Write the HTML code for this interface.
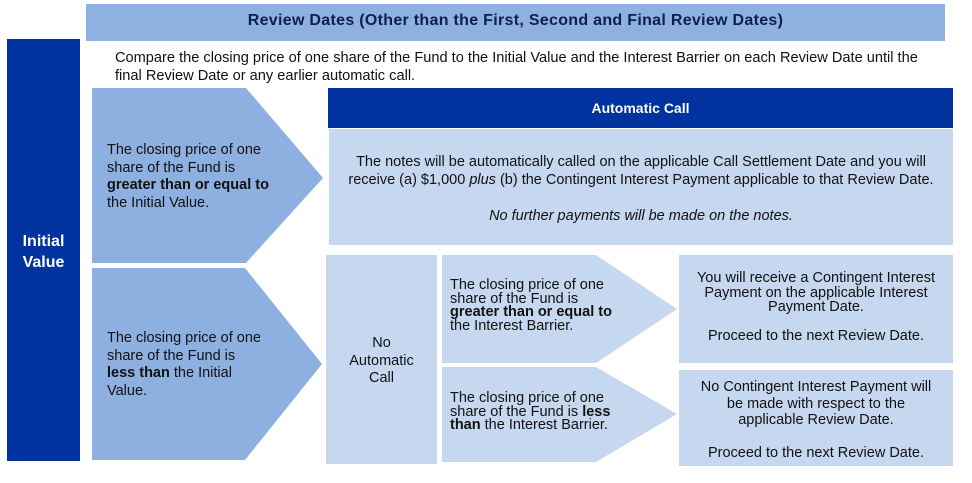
<!DOCTYPE html>
<html><head><meta charset="utf-8">
<style>
body{margin:0;width:972px;height:483px;background:#fff;position:relative;overflow:hidden;font-family:"Liberation Sans",Arial,sans-serif;color:#111;}
.a{position:absolute;}
.t{position:absolute;font-size:14.5px;line-height:17.5px;letter-spacing:0;white-space:nowrap;}
</style></head><body>
<div class="a" style="left:86px;top:4px;width:859px;height:37px;background:#8eb1e2;"></div>
<div class="t" style="left:86px;top:12px;width:859px;text-align:center;font-weight:bold;font-size:16px;color:#0d1f4f;letter-spacing:0.3px;">Review Dates (Other than the First, Second and Final Review Dates)</div>
<div class="a" style="left:7px;top:39px;width:73px;height:422px;background:#0033a0;"></div>
<div class="t" style="left:7px;top:231px;width:73px;text-align:center;color:#fff;font-weight:bold;font-size:16px;line-height:21px;">Initial<br>Value</div>
<div class="t" style="left:115px;top:49px;font-size:14.6px;line-height:18px;">Compare the closing price of one share of the Fund to the Initial Value and the Interest Barrier on each Review Date until the<br>final Review Date or any earlier automatic call.</div>
<svg class="a" style="left:0;top:0" width="972" height="483">
<polygon points="92,88 246,88 323,178 246,263 92,263" fill="#8db0e1"/>
<polygon points="92,268 245,268 322,364 245,460 92,460" fill="#8db0e1"/>
<rect x="328" y="88" width="625" height="40" fill="#0033a0"/>
<rect x="329" y="129" width="624" height="116" fill="#c6d8f0"/>
<rect x="326" y="255" width="111" height="209" fill="#c6d8f0"/>
<polygon points="442,255 596,255 677,309 596,363 442,363" fill="#c6d8f0"/>
<polygon points="442,367 596,367 677,414 596,462 442,462" fill="#c6d8f0"/>
<rect x="679" y="255" width="274" height="108" fill="#c6d8f0"/>
<rect x="679" y="370" width="274" height="96" fill="#c6d8f0"/>
</svg>
<div class="t" style="left:107px;top:142px;">The closing price of one<br>share of the Fund is<br><b>greater than or equal to</b><br>the Initial Value.</div>
<div class="t" style="left:107px;top:330px;">The closing price of one<br>share of the Fund is<br><b>less than</b> the Initial<br>Value.</div>
<div class="t" style="left:328px;top:100px;width:625px;text-align:center;color:#fff;font-weight:bold;font-size:14px;">Automatic Call</div>
<div class="t" style="left:329px;top:153px;width:624px;text-align:center;line-height:18px;">The notes will be automatically called on the applicable Call Settlement Date and you will<br>receive (a) $1,000 <i>plus</i> (b) the Contingent Interest Payment applicable to that Review Date.<br><br><i>No further payments will be made on the notes.</i></div>
<div class="t" style="left:326px;top:335px;width:111px;text-align:center;line-height:17.5px;">No<br>Automatic<br>Call</div>
<div class="t" style="left:450px;top:279px;line-height:13.5px;">The closing price of one<br>share of the Fund is<br><b>greater than or equal to</b><br>the Interest Barrier.</div>
<div class="t" style="left:450px;top:392px;line-height:13.5px;">The closing price of one<br>share of the Fund is <b>less</b><br><b>than</b> the Interest Barrier.</div>
<div class="t" style="left:679px;top:271px;width:274px;text-align:center;line-height:14.5px;">You will receive a Contingent Interest<br>Payment on the applicable Interest<br>Payment Date.<br><br>Proceed to the next Review Date.</div>
<div class="t" style="left:679px;top:379px;width:274px;text-align:center;line-height:16.5px;">No Contingent Interest Payment will<br>be made with respect to the<br>applicable Review Date.<br><br>Proceed to the next Review Date.</div>
</body></html>
